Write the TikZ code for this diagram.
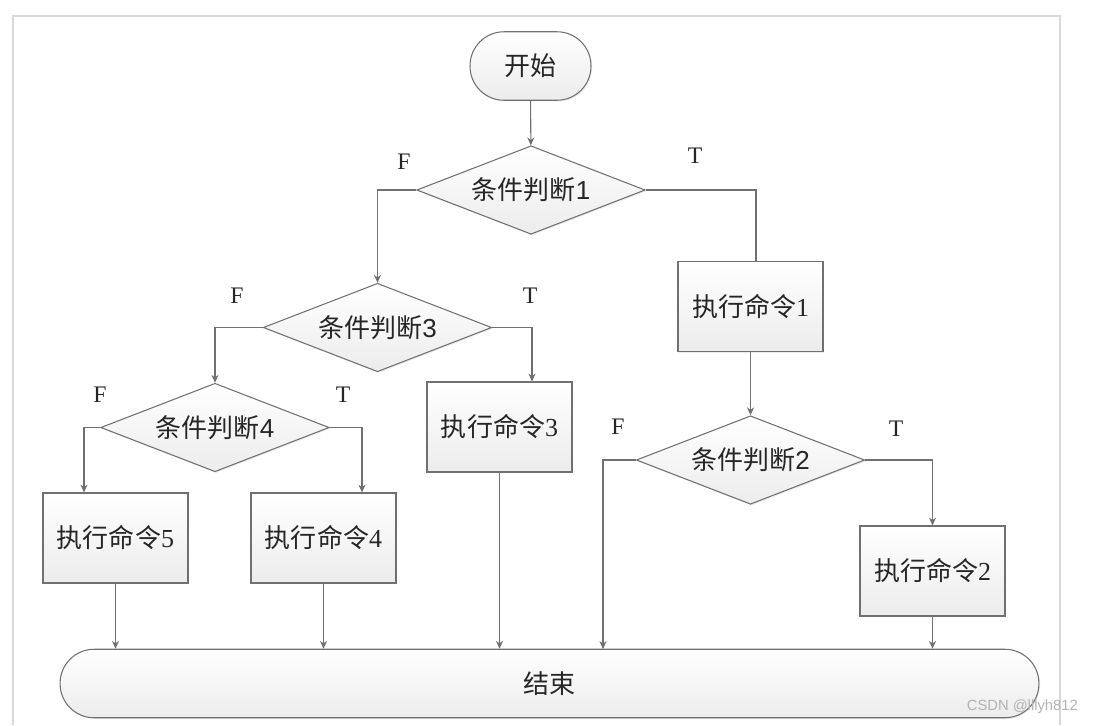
\documentclass[tikz,border=0pt]{standalone}
\usepackage{fontspec}
\setmainfont{Liberation Serif}
\newfontfamily\cjk{Noto Sans CJK SC}
\newfontfamily\arial{Liberation Sans}
\usetikzlibrary{shapes.geometric,arrows.meta,shadows}
\definecolor{edge}{HTML}{707070}
\definecolor{fillb}{HTML}{ECECEC}
\tikzset{
  base/.style={draw=edge,line width=0.6pt,top color=white,bottom color=fillb,
    drop shadow={shadow xshift=0.7pt,shadow yshift=-0.7pt,fill=black!15},
    font=\fontsize{14.8}{17}\selectfont,text=black!85,inner sep=0pt},
  term/.style={base,rectangle,rounded corners=0.68cm,minimum height=1.37cm},
  cond/.style={base,diamond,aspect=2.6,minimum width=4.57cm,minimum height=1.77cm},
  cmd/.style={base,rectangle,minimum width=2.9cm,minimum height=1.8cm},
  lbl/.style={font=\fontsize{13.5}{15}\selectfont,text=black!85},
  line/.style={draw=edge,line width=0.6pt},
  arr/.style={line,-{Stealth[length=4.5pt,width=4pt]}}
}
\begin{document}
\begin{tikzpicture}[x=0.02cm,y=-0.02cm]
\useasboundingbox (0,0) rectangle (1095,725);
\draw[gray!30,line width=1pt] (13,725) -- (13,16) -- (1060,16) -- (1060,725);
% nodes
\node[term,minimum width=2.42cm] (start) at (530.5,66) {\cjk 开始};
\node[cond] (d1) at (531,190) {\cjk 条件判断\arial 1};
\node[cmd] (c1) at (750.5,306.5) {\cjk 执行命令\rmfamily 1};
\node[cond] (d2) at (750.5,460) {\cjk 条件判断\arial 2};
\node[cmd] (c2) at (932.5,571) {\cjk 执行命令\rmfamily 2};
\node[cond] (d3) at (377.5,327.5) {\cjk 条件判断\arial 3};
\node[cmd] (c3) at (499.5,427) {\cjk 执行命令\rmfamily 3};
\node[cond] (d4) at (215,427.5) {\cjk 条件判断\arial 4};
\node[cmd] (c5) at (115.5,538) {\cjk 执行命令\rmfamily 5};
\node[cmd] (c4) at (323.5,538) {\cjk 执行命令\rmfamily 4};
\node[term,minimum width=19.58cm] (end) at (549.5,683.5) {\cjk 结束};
% labels
\node[lbl] (f1) at (404,162) {F};
\node[lbl] (t1) at (695,156) {T};
\node[lbl] (f2) at (618,427) {F};
\node[lbl] (t2) at (896,429) {T};
\node[lbl] (f3) at (237,296) {F};
\node[lbl] (t3) at (530,296) {T};
\node[lbl] (f4) at (100,395) {F};
\node[lbl] (t4) at (343,395) {T};
\node[anchor=east,font=\arial\fontsize{8.4}{10}\selectfont,text=gray!60] (wm) at (1084,707) {CSDN @lllyh812};
% connectors
\coordinate (e2) at (603,649);
\draw[arr] (start) -- (d1);
\draw[arr] (d1.west) -| (d3.north);
\draw[line] (d1.east) -| ([xshift=0.11cm]c1.north);
\draw[arr] (c1) -- (d2);
\draw[arr] (d2.west) -| (e2);
\draw[arr] (d2.east) -| (c2.north);
\draw[arr] (c2) -- (c2 |- end.north);
\draw[arr] (d3.west) -| (d4.north);
\draw[arr] (d3.east) -| ([xshift=0.65cm]c3.north);
\draw[arr] (c3) -- (c3 |- end.north);
\draw[arr] (d4.west) -| ([xshift=-0.63cm]c5.north);
\draw[arr] (d4.east) -| ([xshift=0.77cm]c4.north);
\draw[arr] (c5) -- (c5 |- end.north);
\draw[arr] (c4) -- (c4 |- end.north);
\end{tikzpicture}
\end{document}
